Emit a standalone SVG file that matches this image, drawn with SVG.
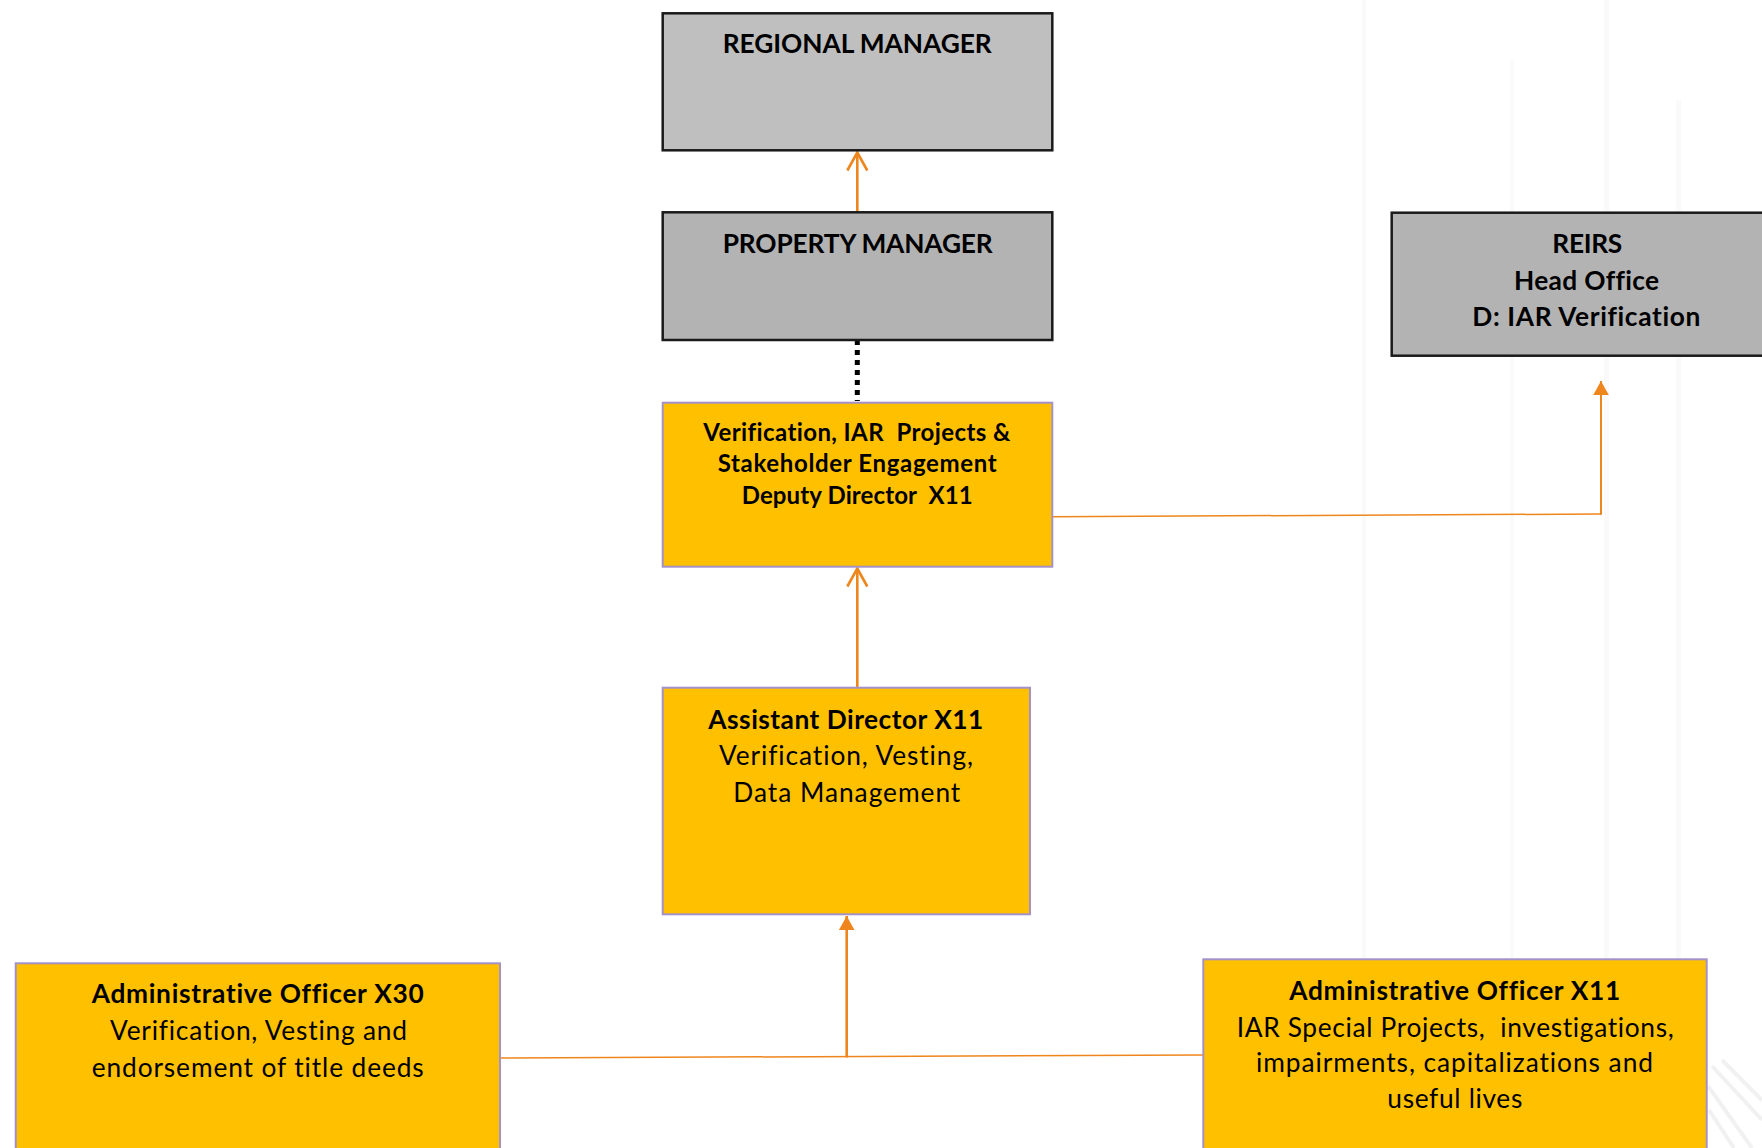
<svg xmlns="http://www.w3.org/2000/svg" width="1762" height="1148" viewBox="0 0 1762 1148">
  <style>
    text { font-family: Lato, "Open Sans", "Liberation Sans", sans-serif; fill: #000; white-space: pre; font-variant-ligatures: none; }
    .b { font-weight: bold; }
    .grey1 { fill: #bfbfbf; stroke: #1a1a1a; stroke-width: 2.5; }
    .grey2 { fill: #b3b3b3; stroke: #1a1a1a; stroke-width: 2.5; }
    .gold { fill: #ffc000; stroke: #a392c9; stroke-width: 2; }
    .wire { fill: none; stroke: #ef861d; }
    .thick { stroke-width: 2.6; }
    .mid { stroke-width: 2; }
    .thin { stroke-width: 1.5; }
    .streak { fill: none; stroke: #dcdcdc; stroke-width: 4; opacity: 0.4; }
    .band { fill: #fafafa; }
  </style>
  <defs>
    <marker id="open" markerUnits="userSpaceOnUse" viewBox="-20 -12 24 24" refX="0" refY="0" markerWidth="24" markerHeight="24" orient="auto" overflow="visible">
      <path d="M-18 -10 L0 0 L-18 10" fill="none" stroke="#ef861d" stroke-width="2.6" stroke-linejoin="miter"/>
    </marker>
    <marker id="solid" markerUnits="userSpaceOnUse" viewBox="-16 -10 18 20" refX="0" refY="0" markerWidth="18" markerHeight="20" orient="auto" overflow="visible">
      <path d="M-14 -7.8 L0 0 L-14 7.8 Z" fill="#ef861d"/>
    </marker>
  </defs>

  <rect width="1762" height="1148" fill="#ffffff"/>

  <!-- faint background texture -->
  <g id="backdrop">
    <rect class="band" x="1362" y="0" width="4" height="1148"/>
    <rect class="band" x="1510" y="60" width="4" height="1000"/>
    <rect class="band" x="1604" y="0" width="5" height="1148"/>
    <rect class="band" x="1676" y="100" width="5" height="900"/>
    <path class="streak" d="M1712 1066 L1762 1120"/>
    <path class="streak" d="M1708 1086 L1752 1148"/>
    <path class="streak" d="M1722 1060 L1762 1100"/>
    <path class="streak" d="M1709 1110 L1734 1148"/>
  </g>

  <!-- connectors -->
  <g id="connectors">
    <path class="wire thick" d="M857.3 212 L857.3 152.5" marker-end="url(#open)"/>
    <path d="M857.3 340 L857.3 401" fill="none" stroke="#000" stroke-width="5" stroke-dasharray="5 5"/>
    <path class="wire thick" d="M857.3 687 L857.3 568.5" marker-end="url(#open)"/>
    <path class="wire thin" d="M500 1058 L1203 1055"/>
    <path class="wire thick" d="M846.7 1057.5 L846.7 916" marker-end="url(#solid)"/>
    <path class="wire thin" d="M1053 516.7 L1601 514"/>
    <path class="wire mid" d="M1601 514.7 L1601 381" marker-end="url(#solid)"/>
  </g>

  <!-- nodes -->
  <g id="regional-manager">
    <rect class="grey1" x="662.7" y="13.3" width="389.6" height="137"/>
    <text class="b" x="722.7" y="53.3" font-size="26.3" textLength="269">REGIONAL MANAGER</text>
  </g>

  <g id="property-manager">
    <rect class="grey2" x="662.7" y="212.3" width="389.6" height="127.7"/>
    <text class="b" x="722.7" y="253.3" font-size="26.3" textLength="270">PROPERTY MANAGER</text>
  </g>

  <g id="reirs-head-office">
    <rect class="grey2" x="1391.7" y="212.7" width="400" height="143"/>
    <text class="b" font-size="26.3">
      <tspan x="1552.3" y="253.3" textLength="70">REIRS</tspan>
      <tspan x="1514" y="290" textLength="145">Head Office</tspan>
      <tspan x="1472.3" y="325.7" textLength="228">D: IAR Verification</tspan>
    </text>
  </g>

  <g id="deputy-director">
    <rect class="gold" x="662.7" y="402.7" width="389.6" height="164"/>
    <text class="b" font-size="24">
      <tspan x="703.3" y="441" textLength="307">Verification, IAR  Projects &amp;</tspan>
      <tspan x="717.7" y="472.3" textLength="279">Stakeholder Engagement</tspan>
      <tspan x="741.7" y="504.3" textLength="231">Deputy Director  X11</tspan>
    </text>
  </g>

  <g id="assistant-director">
    <rect class="gold" x="662.7" y="687.7" width="367.3" height="226.6"/>
    <text font-size="26.3">
      <tspan class="b" x="708.3" y="729" textLength="275">Assistant Director X11</tspan>
      <tspan x="719" y="765" textLength="254">Verification, Vesting,</tspan>
      <tspan x="733.3" y="801.7" textLength="227">Data Management</tspan>
    </text>
  </g>

  <g id="admin-officer-x30">
    <rect class="gold" x="15.7" y="963.3" width="484.3" height="200"/>
    <text font-size="26.3">
      <tspan class="b" x="91.7" y="1003.3" textLength="332">Administrative Officer X30</tspan>
      <tspan x="110" y="1040" textLength="297">Verification, Vesting and</tspan>
      <tspan x="91.7" y="1076.7" textLength="332">endorsement of title deeds</tspan>
    </text>
  </g>

  <g id="admin-officer-x11">
    <rect class="gold" x="1203.3" y="959.3" width="503.4" height="200"/>
    <text font-size="26.3">
      <tspan class="b" x="1289.3" y="1000" textLength="331">Administrative Officer X11</tspan>
      <tspan x="1236.7" y="1036.7" textLength="437">IAR Special Projects,  investigations,</tspan>
      <tspan x="1256" y="1072.3" textLength="397">impairments, capitalizations and</tspan>
      <tspan x="1387.3" y="1108.3" textLength="135">useful lives</tspan>
    </text>
  </g>
</svg>
